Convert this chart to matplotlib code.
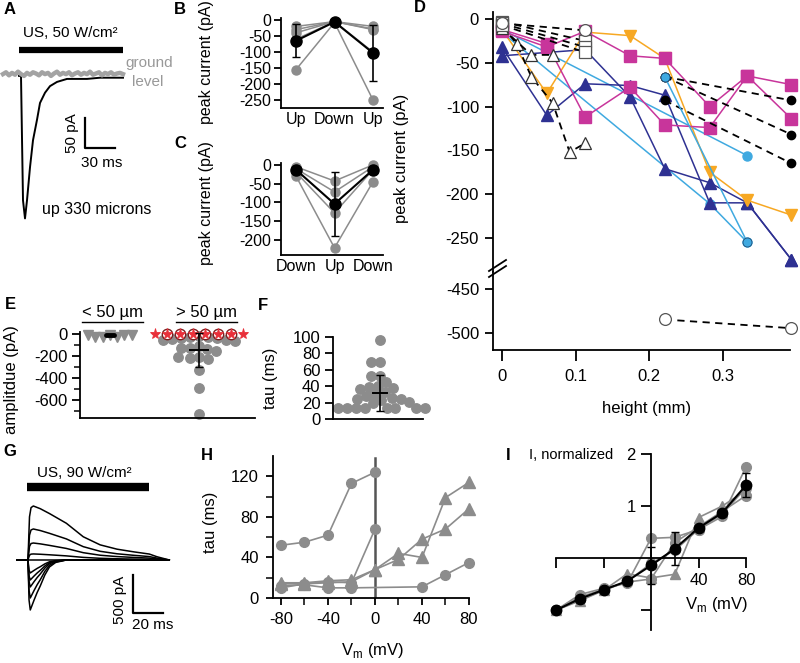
import matplotlib
matplotlib.use("Agg")
import matplotlib.pyplot as plt
import numpy as np
from matplotlib.lines import Line2D

plt.rcParams['font.family'] = ['Liberation Sans', 'DejaVu Sans']
plt.rcParams['font.size'] = 10
plt.rcParams['axes.unicode_minus'] = False
plt.rcParams['axes.linewidth'] = 1.3
plt.rcParams['xtick.major.width'] = 1.3
plt.rcParams['ytick.major.width'] = 1.3
plt.rcParams['xtick.minor.width'] = 1.1
plt.rcParams['ytick.minor.width'] = 1.1

GRAY = '#8c8c8c'
MAG = '#c8359b'
ORANGE = '#f7a823'
LBLUE = '#3fa9e0'
DBLUE = '#2e3192'

# ---------------- data ----------------
# A: single trace (ms, pA)
a_t = [-2, 0, 2, 4, 6, 9, 12, 16, 19, 24, 29, 36, 46, 66, 79, 102]
a_i = [0, 0, -207, -237, -207, -152, -107, -73, -45, -28, -17, -10, -5, -5, -3, -3]
a_gray_t = np.arange(-18, 103, 3)
a_gray = [3, 6, 1, 5, 2, 7, 3, 0, 5, 2, 6, 4, 1, 6, 3, 5, 0, 4, 7, 2,
          5, 3, 6, 1, 4, 6, 2, 5, 3, 7, 2, 4, 6, 1, 5, 3, 6, 2, 4, 5, 3]

# B / C: peak current per cell
b_labels = ['Up', 'Down', 'Up']
b_cells = [[-20, -5, -20], [-30, -5, -28], [-40, -5, -30], [-60, -5, -100], [-155, -8, -250]]
b_mean = [-65, -6, -103]
b_err = [52, 0, 88]

c_labels = ['Down', 'Up', 'Down']
c_cells = [[-5, -43, 0], [-10, -72, -5], [-20, -128, -13], [-30, -221, -45]]
c_mean = [-13, -104, -13]
c_err = [0, 86, 0]

# D: peak current vs height
mag1_x = [0, 0.061, 0.113, 0.174, 0.221, 0.282, 0.333, 0.393]
mag1_y = [-12, -28, -112, -78, -121, -124, -65, -114]
mag2_x = [0, 0.061, 0.113, 0.174, 0.221, 0.282, 0.333, 0.393]
mag2_y = [-14, -32, -14, -42, -45, -100, -65, -75]
org_x = [0, 0.061, 0.113, 0.174, 0.221, 0.282, 0.333, 0.393]
org_y = [-12, -85, -15, -19, -45, -175, -207, -224]
db1_x = [0, 0.061, 0.113, 0.174, 0.221, 0.282, 0.333, 0.393]
db1_y = [-32, -110, -74, -76, -87, -210, -210, -275]
db2_x = [0, 0.113, 0.174, 0.221, 0.282, 0.333, 0.393]
db2_y = [-42, -35, -89, -171, -187, -210, -275]
lb1_x = [0, 0.333]
lb1_y = [-12, -156]
lb2_x = [0, 0.282, 0.333]
lb2_y = [-15, -211, -255]
lb3_x = [0.221, 0.333]
lb3_y = [-66, -255]
ot1_x = [0, 0.02, 0.04, 0.069, 0.092, 0.113]
ot1_y = [-8, -28, -66, -96, -152, -142]
ot2_x = [0, 0.04, 0.069]
ot2_y = [-10, -41, -41]
os_x = [0, 0.113]
os1_y = [-3, -25]
os2_y = [-5, -32]
os3_y = [-7, -38]
oc_x = [0, 0.113]
oc_y = [-5, -13]
oc_low_x = [0.221, 0.393]
oc_low_y = [-485, -495]
bk_x = [0.221, 0.393]
bk1_y = [-66, -93]
bk2_y = [-66, -132]
bk3_y = [-93, -165]

# E: amplitudes
e_small = [-5, -25, -30, -10, -28, -8, -6]
e_small_mean = -12
e_zero = [0, 0, 0, 0, 0, 0, 0, 0]
e_circled = [False, True, True, True, True, True, True, False]
e_large = [-20, -25, -30, -35, -40, -45, -50, -55, -60, -110, -125, -140, -150, -130,
           -210, -220, -230, -205, -330, -490, -720]
e_large_mean = -145
e_large_err = 155

# F: tau
f_tau = [96, 69, 69, 53, 53, 45, 40, 39, 38, 37, 33, 30, 28, 26, 25, 24, 23, 21, 19,
         14, 14, 13, 13, 13, 13, 13, 13]
f_mean = 32
f_err = 22

# G: current family (ms, normalized shape; amplitudes pA)
g_t_pos = [-7, 0, 1, 2, 3.5, 8, 14, 25, 36, 47, 58, 69, 79, 84, 92]
g_pos_shape = [0, 0, 0.8, 0.97, 1.0, 0.95, 0.86, 0.68, 0.43, 0.28, 0.2, 0.15, 0.11, 0.06, 0]
g_t_neg = [-7, 0, 0.7, 1.5, 2.5, 4, 6, 8, 11, 14, 18, 25, 92]
g_neg_shape = [0, 0, 0.8, 1.0, 0.92, 0.8, 0.65, 0.52, 0.3, 0.14, 0.05, 0, 0]
g_pos_amp = [716, 411, 225, 80, 0]
g_neg_amp = [663, 504, 358, 265, 172]

# H: tau vs Vm
h_v = [-80, -60, -40, -20, 0, 20, 40, 60, 80]
h_c1_v = [-80, -60, -40, -20, 0]
h_c1 = [52, 55, 62, 113, 124]
h_c2_v = [-80, -60, -40, -20, 0]
h_c2 = [10, 14, 16, 15, 68]
h_c3_v = [-80, -60, -40, -20, 40, 60, 80]
h_c3 = [12, 13, 10, 10, 11, 23, 35]
h_t1 = [15, 15, 17, 18, 28, 44, 40, 99, 114]
h_t2 = [14, 14, 15, 16, 28, 38, 58, 68, 88]

# I: normalized I-V
i_v = [-80, -60, -40, -20, 0, 20, 40, 60, 80]
i_g1 = [-1.0, -0.7, -0.58, -0.48, 0.38, 0.4, 0.55, 0.8, 1.75]
i_g2 = [-1.0, -0.82, -0.62, -0.3, -0.38, -0.31, 0.78, 1.0, 1.3]
i_g3 = [-1.0, -0.75, -0.6, -0.46, -0.4, 0.3, 0.6, 0.9, 1.2]
i_g4 = [-1.0, -0.8, -0.62, -0.45, -0.1, 0.15, 0.55, 0.85, 1.35]
i_mean = [-1.0, -0.78, -0.61, -0.44, -0.14, 0.18, 0.58, 0.87, 1.4]
i_err = [0, 0, 0, 0, 0.36, 0.32, 0, 0, 0.23]

# ---------------- layout helpers ----------------
W, H = 800, 663
fig = plt.figure(figsize=(8, 6.63), dpi=100)


def box(x, y, w, h):
    return fig.add_axes([x / W, 1 - (y + h) / H, w / W, h / H])


def text(x, y, s, **kw):
    kw.setdefault('ha', 'center')
    kw.setdefault('va', 'center')
    fig.text(x / W, 1 - y / H, s, **kw)


def fline(xs, ys, **kw):
    fig.add_artist(Line2D([x / W for x in xs], [1 - y / H for y in ys], **kw))


def swarm(vals, ypx, d):
    pts, out = [], []
    for v in vals:
        y = v * ypx
        cands = [0.0]
        for px, py in pts:
            dy = y - py
            if abs(dy) < d:
                dx = np.sqrt(d * d - dy * dy)
                cands += [px - dx, px + dx]
        cands.sort(key=abs)
        for c in cands:
            if all((c - px) ** 2 + (y - py) ** 2 >= d * d - 1e-6 for px, py in pts):
                break
        pts.append((c, y))
        out.append(c)
    return np.array(out)


def clean(ax):
    for s in ['top', 'right']:
        ax.spines[s].set_visible(False)


for s, x, y in [('A', 10, 9), ('B', 180, 9), ('C', 180, 144), ('D', 420, 8), ('E', 10, 305),
                ('F', 263, 306), ('G', 10, 452), ('H', 207, 455), ('I', 508, 455)]:
    text(x, y, s, fontweight='bold', fontsize=12)

# ---------------- A ----------------
axA = box(0, 20, 200, 205)
axA.set_xlim(-21, 179)
axA.set_ylim(-248, 93)
axA.axis('off')
axA.plot(a_t, a_i, color='black', lw=1.4)
axA.plot(a_gray_t, a_gray, color='#a3a3a3', lw=3.2, zorder=3)
axA.plot([-2, 102], [43, 43], color='black', lw=4.5, solid_capstyle='butt')
axA.text(49, 72, 'US, 50 W/cm²', ha='center', va='center', fontsize=11)
axA.text(128, 22, 'ground', color='#999999', ha='center', va='center', fontsize=11)
axA.text(127, -10, 'level', color='#999999', ha='center', va='center', fontsize=11)
axA.plot([64, 64, 94], [-70, -120, -120], color='black', lw=1.6)
axA.text(51, -95, '50 pA', rotation=90, ha='center', va='center', fontsize=11)
axA.text(81, -145, '30 ms', ha='center', va='center', fontsize=11)
axA.text(76, -223, 'up 330 microns', ha='center', va='center', fontsize=11.5)


# ---------------- B / C ----------------
def paired(ax, labels, cells, mean, err, ylim, yticks):
    xs = np.arange(len(labels))
    for c in cells:
        ax.plot(xs, c, '-o', color=GRAY, ms=6.5, lw=1.1, clip_on=False)
    ax.errorbar(xs, mean, yerr=err, fmt='-o', color='black', ms=8, lw=1.5,
                elinewidth=1.2, capsize=3, clip_on=False, zorder=4)
    ax.set_xlim(-0.39, 2.26)
    ax.set_ylim(*ylim)
    ax.set_yticks(yticks)
    ax.set_xticks(xs)
    ax.set_xticklabels(labels)
    ax.tick_params(axis='x', length=0, pad=3, labelsize=11.5)
    ax.tick_params(axis='y', length=5, pad=2, labelsize=11.5)
    clean(ax)


axB = box(281, 18.4, 102, 89.6)
paired(axB, b_labels, b_cells, b_mean, b_err, (-275, 5), range(0, -251, -50))
axC = box(281, 163, 102, 92)
paired(axC, c_labels, c_cells, c_mean, c_err, (-240, 5), range(0, -201, -50))
text(206, 62, 'peak current (pA)', rotation=90, fontsize=11.5)
text(206, 203, 'peak current (pA)', rotation=90, fontsize=11.5)

# ---------------- D ----------------
axD = box(493, 12, 297, 260)
axD2 = box(493, 272, 297, 78)
for ax in (axD, axD2):
    ax.set_xlim(-0.012, 0.391)
    clean(ax)
    ax.tick_params(axis='y', length=6, pad=4, labelsize=12)
axD.set_ylim(-289, 8)
axD2.set_ylim(-520, -430.5)
axD.spines['bottom'].set_visible(False)
axD.set_xticks([])
axD.set_yticks(range(0, -251, -50))
axD2.set_yticks([-450, -500])
axD2.set_xticks([0, 0.1, 0.2, 0.3])
axD2.set_xticklabels(['0', '0.1', '0.2', '0.3'])
axD2.tick_params(axis='x', length=8, pad=6, labelsize=12)

solid = dict(lw=1.1, clip_on=False)
axD.plot(lb1_x, lb1_y, '-o', color=LBLUE, ms=6.5, **solid)
axD.plot(lb2_x, lb2_y, '-o', color=LBLUE, ms=6.5, **solid)
axD.plot(db2_x, db2_y, '-^', color=DBLUE, ms=8, **solid)
axD.plot(db1_x, db1_y, '-^', color=DBLUE, ms=8, **solid)
axD.plot(org_x, org_y, '-v', color=ORANGE, ms=8, **solid)
axD.plot(mag1_x, mag1_y, '-s', color=MAG, ms=8.5, **solid)
axD.plot(mag2_x, mag2_y, '-s', color=MAG, ms=8.5, **solid)

dash = dict(color='black', lw=1.3, dashes=(4, 3), clip_on=False)
for yy in (bk1_y, bk2_y, bk3_y):
    axD.plot(bk_x, yy, marker='o', ms=6, mfc='black', mec='black', **dash)
axD.plot(lb3_x, lb3_y, '-o', color=LBLUE, ms=6.5, mec='#1f4f7a', mew=0.6, **solid)
axD.plot(ot1_x, ot1_y, marker='^', ms=8, mfc='white', mec='#333333', mew=0.9, **dash)
axD.plot(ot2_x, ot2_y, marker='^', ms=8, mfc='white', mec='#333333', mew=0.9, **dash)
for yy in (os1_y, os2_y, os3_y):
    axD.plot(os_x, yy, marker='s', ms=8.5, mfc='white', mec='#555555', mew=0.9, **dash)
axD.plot(oc_x, oc_y, marker='o', ms=8.5, mfc='white', mec='#555555', mew=0.9, **dash)
axD2.plot(oc_low_x, oc_low_y, marker='o', ms=8.5, mfc='white', mec='#555555', mew=0.9, **dash)

fline([489, 506], [277, 266], color='black', lw=1.3)
fline([489, 506], [271, 260], color='black', lw=1.3)
text(402, 158, 'peak current (pA)', rotation=90, fontsize=12)
text(647, 408, 'height (mm)', fontsize=12)

# ---------------- E ----------------
axE = box(80, 332, 175, 86)
axE.set_xlim(-0.337, 1.629)
axE.set_ylim(-760, 18)
clean(axE)
axE.set_xticks([])
axE.set_yticks([0, -200, -400, -600])
axE.set_yticks([-100, -300, -500, -700], minor=True)
axE.tick_params(axis='y', which='major', length=6, pad=3, labelsize=12)
axE.tick_params(axis='y', which='minor', length=4)
ey = 86 / 778  # px per pA
ex = 89.0      # px per category
axE.plot(swarm(e_small, ey, 7.5) / ex, e_small, 'v', color=GRAY, ms=7.5, clip_on=False)
axE.plot([-0.05, 0.05], [e_small_mean] * 2, color='black', lw=3.5, solid_capstyle='round')
gx = 1 + swarm(e_large, ey, 9) / ex
axE.plot(gx, e_large, 'o', color=GRAY, ms=6.8, clip_on=False)
zx = 1 + (np.arange(len(e_zero)) - (len(e_zero) - 1) / 2) * 12.7 / ex
circ = np.array(e_circled)
axE.plot(zx[circ], np.array(e_zero)[circ], 'o', ms=7.5, mfc='white', mec='#7a2020', mew=1,
         clip_on=False, zorder=4)
axE.plot(zx, e_zero, '*', color='#e8303a', ms=8, mew=0.6, clip_on=False, zorder=5)
axE.errorbar([1], [e_large_mean], yerr=[e_large_err], fmt='none', ecolor='black',
             elinewidth=1.2, capsize=3, zorder=6)
axE.plot([0.9, 1.1], [e_large_mean] * 2, color='black', lw=1.4, zorder=6)
text(112, 313, '< 50 µm', fontsize=12)
text(207, 313, '> 50 µm', fontsize=12)
fline([82, 143], [322, 322], color='black', lw=1)
fline([176, 237], [322, 322], color='black', lw=1)
text(12, 380, 'amplitdue (pA)', rotation=90, fontsize=12)

# ---------------- F ----------------
axF = box(333, 337, 90, 82)
axF.set_xlim(0, 90)
axF.set_ylim(0, 100)
clean(axF)
axF.set_xticks([])
axF.set_yticks(range(0, 101, 20))
axF.tick_params(axis='y', length=6, pad=3, labelsize=12)
axF.plot(47 + swarm(f_tau, 0.82, 9), f_tau, 'o', color=GRAY, ms=6.8, clip_on=False)
axF.errorbar([47], [f_mean], yerr=[f_err], fmt='none', ecolor='black', elinewidth=1.2,
             capsize=3, zorder=5)
axF.plot([40, 54], [f_mean] * 2, color='black', lw=1.4, zorder=5)
text(271, 378, 'tau (ms)', rotation=90, fontsize=12)

# ---------------- G ----------------
axG = box(10, 460, 170, 190)
axG.set_xlim(-11.7, 99)
axG.set_ylim(-1194, 1326)
axG.axis('off')
for amp in g_pos_amp:
    axG.plot(g_t_pos, amp * np.array(g_pos_shape), color='black', lw=1.1)
for amp in g_neg_amp:
    axG.plot(g_t_neg, -amp * np.array(g_neg_shape), color='black', lw=1.1)
axG.plot([-0.7, 79], [968, 968], color='black', lw=6, solid_capstyle='butt')
axG.text(37, 1154, 'US, 90 W/cm²', ha='center', va='center', fontsize=11)
axG.plot([68.4, 68.4, 88], [-199, -703, -703], color='black', lw=1.6)
axG.text(60, -530, '500 pA', rotation=90, ha='center', va='center', fontsize=11)
axG.text(81.5, -865, '20 ms', ha='center', va='center', fontsize=11)

# ---------------- H ----------------
axH = box(273, 456, 196, 142)
axH.set_xlim(-86.8, 80)
axH.set_ylim(0, 140)
clean(axH)
axH.axvline(0, ymax=138 / 140, color='#555555', lw=1.8, zorder=1)
hs = dict(color=GRAY, lw=1.2, clip_on=False)
axH.plot(h_c1_v, h_c1, '-o', ms=7, **hs)
axH.plot(h_c2_v, h_c2, '-o', ms=7, **hs)
axH.plot(h_c3_v, h_c3, '-o', ms=7, **hs)
axH.plot(h_v, h_t1, '-^', ms=8, **hs)
axH.plot(h_v, h_t2, '-^', ms=8, **hs)
axH.set_xticks([-80, -40, 0, 40, 80])
axH.set_xticks([-60, -20, 20, 60], minor=True)
axH.set_yticks([0, 40, 80, 120])
axH.set_yticks([20, 60, 100], minor=True)
axH.tick_params(which='major', length=5, pad=5, labelsize=12)
axH.tick_params(which='minor', length=5)
text(373, 650, 'V$_\\mathregular{m}$ (mV)', fontsize=12)
text(210, 522, 'tau (ms)', rotation=90, fontsize=12)

# ---------------- I ----------------
axI = box(556, 454, 190, 176)
axI.set_xlim(-80, 80)
axI.set_ylim(-1.38, 2)
clean(axI)
axI.spines['left'].set_position(('data', 0))
axI.spines['bottom'].set_position(('data', 0))
ist = dict(color=GRAY, lw=1.2, clip_on=False)
axI.plot(i_v, i_g1, '-o', ms=7, **ist)
axI.plot(i_v, i_g2, '-^', ms=7.5, **ist)
axI.plot(i_v, i_g3, '-o', ms=7, **ist)
axI.plot(i_v, i_g4, '-o', ms=7, **ist)
axI.errorbar(i_v, i_mean, yerr=i_err, fmt='-o', color='black', ms=7.5, lw=1.5,
             elinewidth=1.2, capsize=3, clip_on=False, zorder=5)
axI.set_xticks([-80, -40, 0, 40, 80])
axI.set_xticklabels(['', '', '', '40', '80'])
axI.set_yticks([-1, 1, 2])
axI.set_yticklabels(['', '1', '2'])
axI.tick_params(length=7, pad=4, labelsize=12)
text(613, 455, 'I, normalized', ha='right', fontsize=10.5)
text(717, 605, 'V$_\\mathregular{m}$ (mV)', fontsize=12)

fig.savefig('out.png', dpi=100)
